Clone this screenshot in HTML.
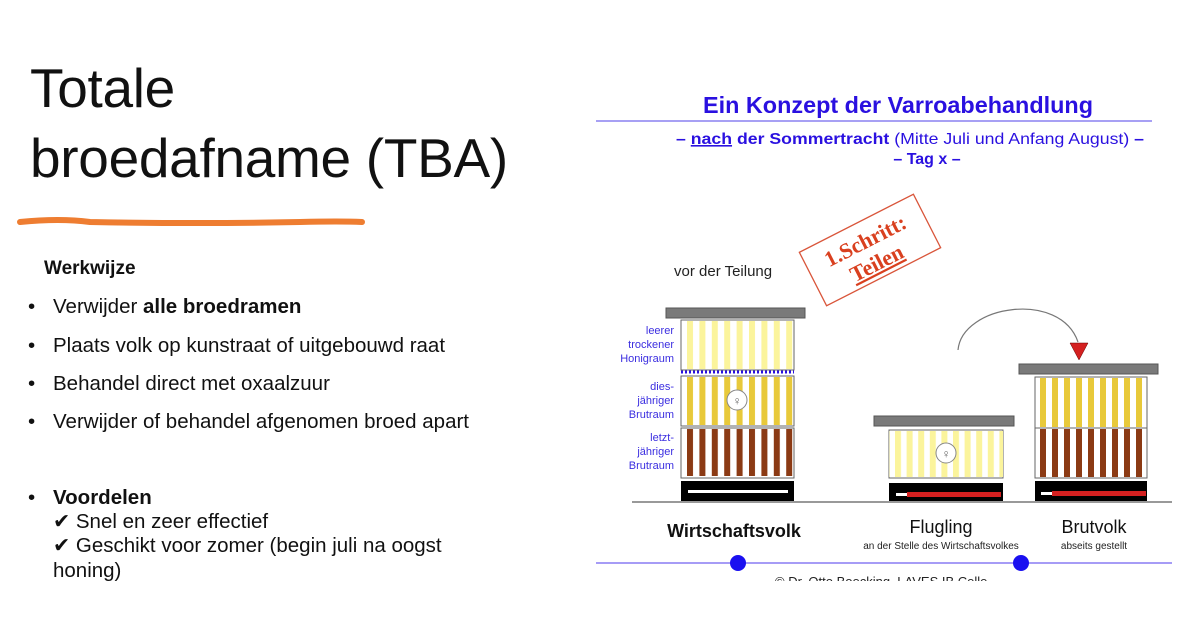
<!DOCTYPE html>
<html><head><meta charset="utf-8"><style>
body{margin:0;width:1200px;height:641px;background:#fff;position:relative;overflow:hidden;font-family:"Liberation Sans",sans-serif;}
.t{position:absolute;left:30px;font-size:55px;color:#111;font-weight:normal;letter-spacing:-0.3px}
.b{position:absolute;font-size:20.5px;color:#111;left:28px}
.b span.d{display:inline-block;width:25px}
</style></head><body>
<div class="t" style="top:56px">Totale</div>
<div class="t" style="top:126px">broedafname (TBA)</div>
<svg style="position:absolute;left:0;top:0" width="1200" height="641">
<path d="M20 222 Q60 218 90 222 Q200 224 300 222 Q340 221 362 222" stroke="#ee7d31" stroke-width="6" fill="none" stroke-linecap="round"/>
</svg>
<div class="b" style="top:258px;left:44px;font-weight:bold;font-size:19px">Werkwijze</div>
<div class="b" style="top:295px"><span class="d">•</span>Verwijder <b>alle broedramen</b></div>
<div class="b" style="top:334px"><span class="d">•</span>Plaats volk op kunstraat of uitgebouwd raat</div>
<div class="b" style="top:372px"><span class="d">•</span>Behandel direct met oxaalzuur</div>
<div class="b" style="top:410px"><span class="d">•</span>Verwijder of behandel afgenomen broed apart</div>
<div class="b" style="top:486px"><span class="d">•</span><b>Voordelen</b></div>
<div class="b" style="top:510px;left:53px;line-height:24px">✔ Snel en zeer effectief<br>✔ Geschikt voor zomer (begin juli na oogst</div>
<div class="b" style="top:559px;left:53px">honing)</div>

<svg style="position:absolute;left:0;top:0" width="1200" height="641" font-family="Liberation Sans,sans-serif">
<defs>
<clipPath id="cp"><rect x="0" y="0" width="1200" height="581"/></clipPath>
<pattern id="ly" patternUnits="userSpaceOnUse" x="687" y="0" width="12.4" height="10"><rect x="0" y="0" width="6" height="10" fill="#fbf49c"/></pattern>
<pattern id="yy" patternUnits="userSpaceOnUse" x="687" y="0" width="12.4" height="10"><rect x="0" y="0" width="6" height="10" fill="#e8c93a"/></pattern>
<pattern id="br" patternUnits="userSpaceOnUse" x="687" y="0" width="12.4" height="10"><rect x="0" y="0" width="6" height="10" fill="#8b3a14"/></pattern>
<pattern id="ly2" patternUnits="userSpaceOnUse" x="895" y="0" width="11.6" height="10"><rect x="0" y="0" width="6" height="10" fill="#fbf49c"/></pattern>
<pattern id="yy3" patternUnits="userSpaceOnUse" x="1040" y="0" width="12" height="10"><rect x="0" y="0" width="6" height="10" fill="#e8c93a"/></pattern>
<pattern id="br3" patternUnits="userSpaceOnUse" x="1040" y="0" width="12" height="10"><rect x="0" y="0" width="6" height="10" fill="#8b3a14"/></pattern>
</defs>
<text x="703" y="113" font-size="23" font-weight="bold" fill="#2a10e0" textLength="390" lengthAdjust="spacingAndGlyphs">Ein Konzept der Varroabehandlung</text>
<line x1="596" y1="121" x2="1152" y2="121" stroke="#8a80f0" stroke-width="1.5"/>
<text x="676" y="144" font-size="16" fill="#2a10e0" textLength="468" lengthAdjust="spacingAndGlyphs"><tspan font-weight="bold">– </tspan><tspan font-weight="bold" text-decoration="underline">nach</tspan><tspan font-weight="bold"> der Sommertracht</tspan> (Mitte Juli und Anfang August)<tspan font-weight="bold"> –</tspan></text>
<text x="927" y="164" text-anchor="middle" font-size="16" font-weight="bold" fill="#2a10e0">– Tag x –</text>

<g transform="translate(870,250) rotate(-27)">
<rect x="-64" y="-30" width="128" height="60" fill="none" stroke="#d9553a" stroke-width="1.3"/>
<text x="0" y="-3" text-anchor="middle" font-family="Liberation Serif,serif" font-weight="bold" font-size="22" fill="#d9401f">1.Schritt:</text>
<text x="0" y="22" text-anchor="middle" font-family="Liberation Serif,serif" font-weight="bold" font-size="22" fill="#d9401f" text-decoration="underline">Teilen</text>
</g>
<text x="674" y="276" font-size="15" fill="#222">vor der Teilung</text>

<!-- Wirtschaftsvolk -->
<rect x="666" y="308" width="139" height="10" fill="#7a7a7a" stroke="#555"/>
<rect x="681" y="320" width="113" height="50" fill="#fff" stroke="#666"/>
<rect x="681" y="321" width="113" height="48" fill="url(#ly)"/>
<line x1="681" y1="372" x2="794" y2="372" stroke="#2a10e0" stroke-width="3" stroke-dasharray="2,2"/>
<rect x="681" y="376" width="113" height="50" fill="#fff" stroke="#666"/>
<rect x="681" y="377" width="113" height="48" fill="url(#yy)"/>
<rect x="681" y="428" width="113" height="50" fill="#fff" stroke="#666"/>
<rect x="681" y="429" width="113" height="47" fill="url(#br)"/>
<circle cx="737" cy="400" r="10" fill="#fff" stroke="#888"/><text x="737" y="405" text-anchor="middle" font-size="12" fill="#666">♀</text>
<rect x="681" y="481" width="113" height="20" fill="#000"/>
<rect x="688" y="490" width="100" height="3" fill="#fff"/>
<g font-size="11" fill="#3b2ee0" text-anchor="end">
<text x="674" y="334">leerer</text><text x="674" y="348">trockener</text><text x="674" y="362">Honigraum</text>
<text x="674" y="390">dies-</text><text x="674" y="404">jähriger</text><text x="674" y="418">Brutraum</text>
<text x="674" y="441">letzt-</text><text x="674" y="455">jähriger</text><text x="674" y="469">Brutraum</text>
</g>

<!-- Flugling -->
<rect x="874" y="416" width="140" height="10" fill="#7a7a7a" stroke="#555"/>
<rect x="889" y="430" width="114" height="48" fill="#fff" stroke="#666"/>
<rect x="889" y="431" width="114" height="46" fill="url(#ly2)"/>
<circle cx="946" cy="453" r="10" fill="#fff" stroke="#888"/><text x="946" y="458" text-anchor="middle" font-size="12" fill="#666">♀</text>
<rect x="889" y="483" width="114" height="18" fill="#000"/>
<rect x="896" y="493" width="12" height="3" fill="#fff"/><rect x="907" y="492" width="94" height="5" fill="#d42020"/>

<!-- Brutvolk -->
<rect x="1019" y="364" width="139" height="10" fill="#7a7a7a" stroke="#555"/>
<rect x="1035" y="377" width="112" height="51" fill="#fff" stroke="#666"/>
<rect x="1035" y="378" width="112" height="49" fill="url(#yy3)"/>
<rect x="1035" y="428" width="112" height="50" fill="#fff" stroke="#666"/>
<rect x="1035" y="429" width="112" height="48" fill="url(#br3)"/>
<rect x="1035" y="481" width="112" height="20" fill="#000"/>
<rect x="1041" y="492" width="12" height="3" fill="#fff"/><rect x="1052" y="491" width="94" height="5" fill="#d42020"/>

<path d="M958 350 C962 305 1060 290 1078 342" fill="none" stroke="#777" stroke-width="1.2"/>
<polygon points="1070,343 1088,343 1079,360" fill="#d42020" stroke="#600" stroke-width="0.5"/>

<line x1="632" y1="502" x2="1172" y2="502" stroke="#999" stroke-width="2"/>
<text x="734" y="537" text-anchor="middle" font-size="18" font-weight="bold" fill="#111">Wirtschaftsvolk</text>
<text x="941" y="533" text-anchor="middle" font-size="18" fill="#111">Flugling</text>
<text x="941" y="549" text-anchor="middle" font-size="10" fill="#222">an der Stelle des Wirtschaftsvolkes</text>
<text x="1094" y="533" text-anchor="middle" font-size="18" fill="#111">Brutvolk</text>
<text x="1094" y="549" text-anchor="middle" font-size="10" fill="#222">abseits gestellt</text>
<line x1="596" y1="563" x2="1172" y2="563" stroke="#7060f0" stroke-width="1.3"/>
<circle cx="738" cy="563" r="8" fill="#1a10f0"/>
<circle cx="1021" cy="563" r="8" fill="#1a10f0"/>
<text x="775" y="586" font-size="13" fill="#222" clip-path="url(#cp)">© Dr. Otto Boecking, LAVES IB Celle</text>
</svg>
</body></html>
